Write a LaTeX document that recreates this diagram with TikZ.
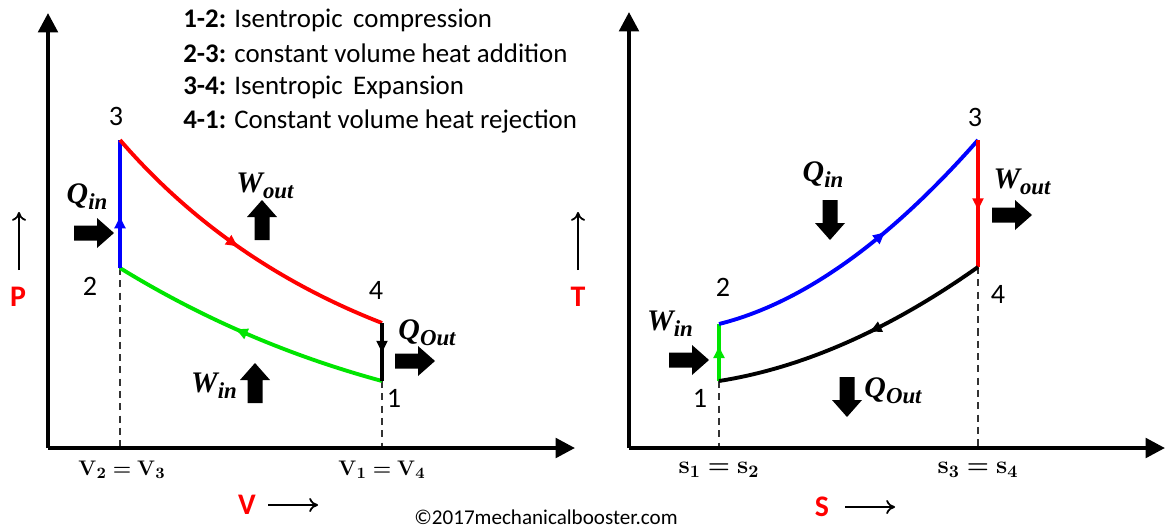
\documentclass[tikz,border=0pt]{standalone}
\usepackage{amsmath,bm}
\usepackage[no-math]{fontspec}
\setmainfont{Carlito}
\newfontfamily\qfont{Liberation Serif}
\usetikzlibrary{arrows.meta,decorations.markings}
\newcommand{\qsym}[2]{{\qfont\bfseries\itshape\fontsize{17}{19}\selectfont #1\raisebox{-3.5pt}{\fontsize{13}{15}\selectfont #2}}}
\tikzset{
  curve/.style={line width=2.2pt},
  axisline/.style={line width=2.3pt,-{Triangle[length=11pt,width=11pt]}},
  dashline/.style={line width=0.6pt,dash pattern=on 4pt off 3pt,black!80},
  midarrow/.style={postaction={decorate,decoration={markings,mark=at position #1 with {\arrow{Latex[length=8pt,width=7pt]}}}}},
  num/.style={font=\fontsize{16}{18}\selectfont},
  axname/.style={font=\fontsize{17}{19}\selectfont\bfseries,text=red},
  qlabel/.style={inner sep=0pt},
  tick/.style={font=\fontsize{13}{15}\selectfont},
  stick/.style={font=\fontsize{14}{16}\selectfont},
  legend/.style={font=\fontsize{15.3}{18}\selectfont,anchor=west,inner sep=0pt},
  pics/fatarrow/.style={code={\fill[black] (-20,-7.5) -- (3,-7.5) -- (3,-15) -- (20,0) -- (3,15) -- (3,7.5) -- (-20,7.5) -- cycle;}}
}
\begin{document}
\begin{tikzpicture}[x=0.02cm,y=-0.02cm]
\useasboundingbox[fill=white] (0,0) rectangle (1166,531);
% ---------------- legend
\node[legend] (lg1) at (183,20) {\textbf{1-2:} Isentropic\, compression};
\node[legend] (lg2) at (183,53) {\textbf{2-3:} constant volume heat addition};
\node[legend] (lg3) at (183,87) {\textbf{3-4:} Isentropic\, Expansion};
\node[legend] (lg4) at (183,121) {\textbf{4-1:} Constant volume heat rejection};
% ---------------- P-V diagram
\coordinate (LO) at (48,448);
\coordinate (LY) at (48,13);
\coordinate (LX) at (575,448);
\coordinate (L1) at (382,381);
\coordinate (L2) at (120,268);
\coordinate (L3) at (120,140);
\coordinate (L4) at (382,323);
\draw[dashline] (L2) -- (L2 |- LO);
\draw[dashline] (L1) -- (L1 |- LO);
\draw[curve,green!90!black,midarrow=0.55] (L1) .. controls (290,356) and (203,319) .. (L2);
\draw[curve,blue,midarrow=0.42] (L2) -- (L3);
\draw[curve,red,midarrow=0.5] (L3) .. controls (190,221) and (277,282) .. (L4);
\draw[curve,black,midarrow=0.55] (L4) -- (L1);
\draw[axisline] (LO) -- (LY);
\draw[axisline] (LO) -- (LX);
\node[num] (n3) at (116,116) {3};
\node[num] (n2) at (90,286) {2};
\node[num] (n4) at (376,290) {4};
\node[num] (n1) at (394,398) {1};
\node[qlabel] (qin) at (87,197) {\qsym{Q}{in}};
\pic[rotate=0] (aqin) at (94,233) {fatarrow};
\node[qlabel] (wout) at (265,186) {\qsym{W}{out}};
\pic[rotate=90] (awout) at (262,220) {fatarrow};
\node[qlabel] (qout) at (427,333) {\qsym{Q}{Out}};
\pic[rotate=0] (aqout) at (415,361) {fatarrow};
\node[qlabel] (win) at (214,386) {\qsym{W}{in}};
\pic[rotate=90] (awin) at (255,383) {fatarrow};
\node[tick] (v23) at (122,470) {$\boldsymbol{\mathrm{V}_2=\mathrm{V}_3}$};
\node[tick] (v14) at (382,470) {$\boldsymbol{\mathrm{V}_1=\mathrm{V}_4}$};
\node[axname] (P) at (18,297) {P};
\coordinate (pa0) at (19,270);
\coordinate (pa1) at (19,212);
\draw[line width=1pt,-{To[length=5pt,width=8pt]}] (pa0) -- (pa1);
\node[axname] (V) at (247,505) {V};
\coordinate (va0) at (268,505);
\coordinate (va1) at (318,505);
\draw[line width=1pt,-{To[length=5pt,width=8pt]}] (va0) -- (va1);
% ---------------- T-s diagram
\coordinate (RO) at (629,448);
\coordinate (RY) at (629,12);
\coordinate (RX) at (1165,448);
\coordinate (R1) at (719,381);
\coordinate (R2) at (719,324);
\coordinate (R3) at (978,140);
\coordinate (R4) at (978,267);
\draw[dashline] (R1) -- (R1 |- RO);
\draw[dashline] (R4) -- (R4 |- RO);
\draw[curve,green!90!black,midarrow=0.65] (R1) -- (R2);
\draw[curve,blue,midarrow=0.6] (R2) .. controls (803,303) and (889,241) .. (R3);
\draw[curve,red,midarrow=0.57] (R3) -- (R4);
\draw[curve,black,midarrow=0.45] (R4) .. controls (889,330) and (802,368) .. (R1);
\draw[axisline] (RO) -- (RY);
\draw[axisline] (RO) -- (RX);
\node[num] (m3) at (975,117) {3};
\node[num] (m2) at (723,287) {2};
\node[num] (m4) at (998,294) {4};
\node[num] (m1) at (700,398) {1};
\node[qlabel] (rqin) at (823,175) {\qsym{Q}{in}};
\pic[rotate=-90] (arqin) at (830,220) {fatarrow};
\node[qlabel] (rwout) at (1022,182) {\qsym{W}{out}};
\pic[rotate=0] (arwout) at (1012,215) {fatarrow};
\node[qlabel] (rwin) at (670,324) {\qsym{W}{in}};
\pic[rotate=0] (arwin) at (689,360) {fatarrow};
\node[qlabel] (rqout) at (893,391) {\qsym{Q}{Out}};
\pic[rotate=-90] (arqout) at (847,397) {fatarrow};
\node[stick] (s12) at (719,470) {$\boldsymbol{\mathrm{s}_1=\mathrm{s}_2}$};
\node[stick] (s34) at (978,470) {$\boldsymbol{\mathrm{s}_3=\mathrm{s}_4}$};
\node[axname] (T) at (578,297) {T};
\coordinate (ta0) at (578,270);
\coordinate (ta1) at (578,212);
\draw[line width=1pt,-{To[length=5pt,width=8pt]}] (ta0) -- (ta1);
\node[axname] (S) at (822,507) {S};
\coordinate (sa0) at (845,507);
\coordinate (sa1) at (895,507);
\draw[line width=1pt,-{To[length=5pt,width=8pt]}] (sa0) -- (sa1);
% ---------------- credit
\node[font=\fontsize{12}{14}\selectfont] (credit) at (546,517) {\textcopyright2017mechanicalbooster.com};
\end{tikzpicture}
\end{document}
